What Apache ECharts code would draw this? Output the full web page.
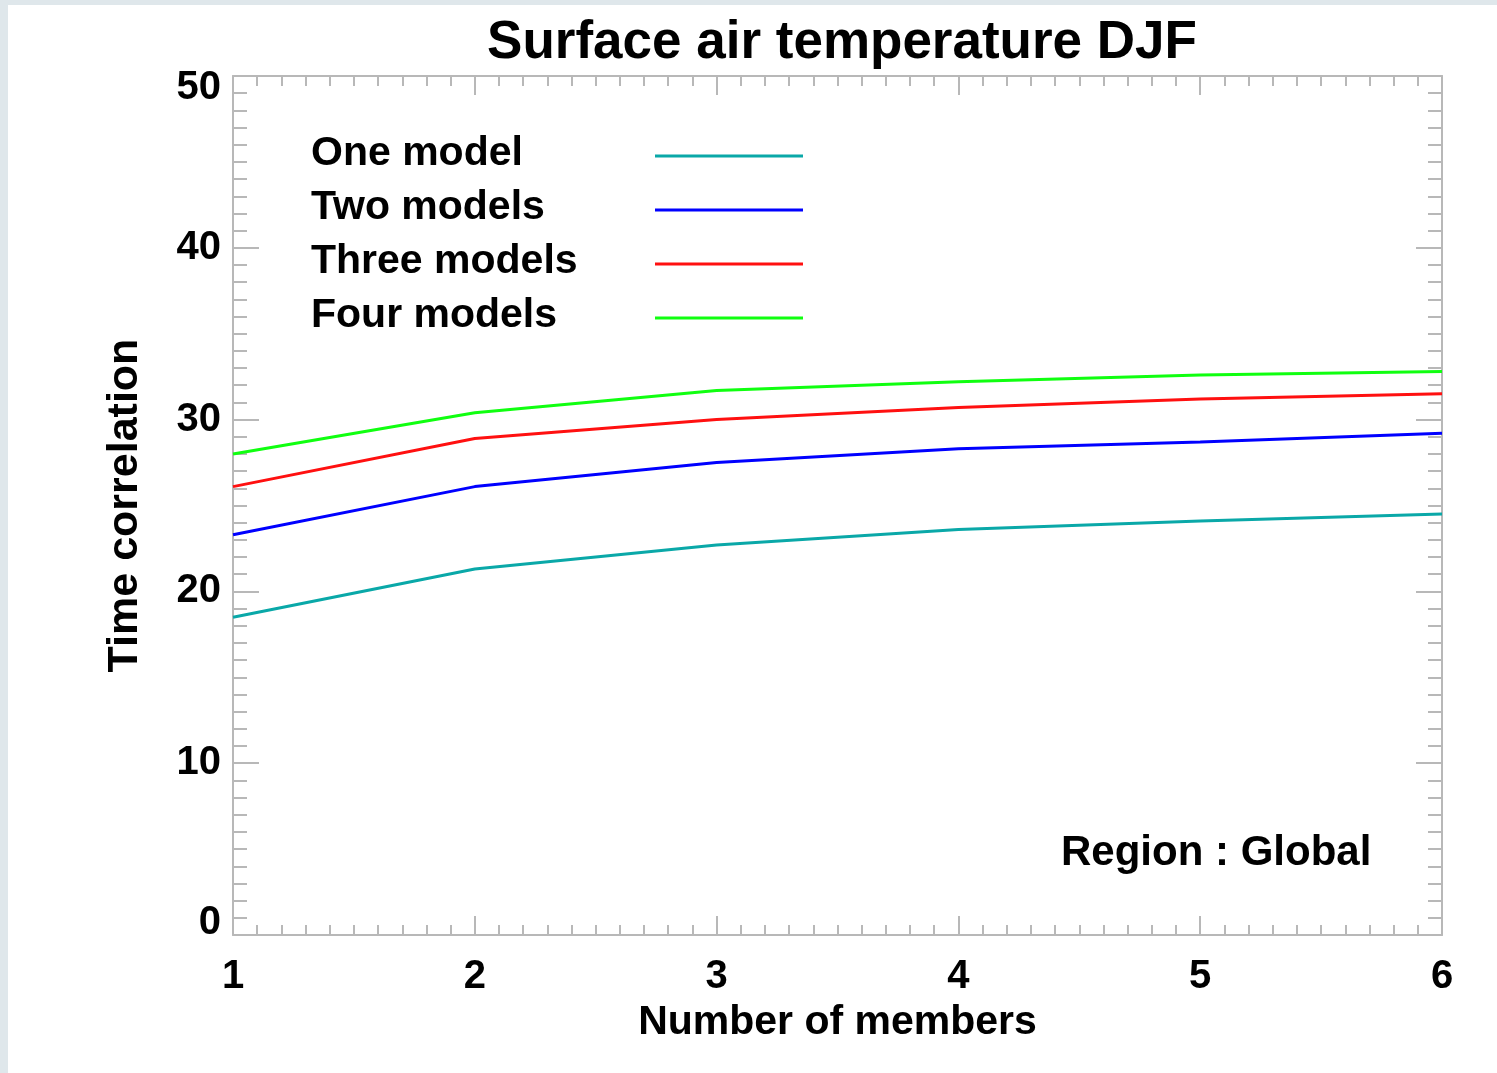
<!DOCTYPE html>
<html>
<head>
<meta charset="utf-8">
<title>Surface air temperature DJF</title>
<script src="https://cdn.jsdelivr.net/npm/echarts@6/dist/echarts.min.js"></script>
<style>
  html, body { margin: 0; padding: 0; background: #dfe7eb; }
  #chart { width: 1497px; height: 1073px; }
</style>
</head>
<body>
<div id="chart"></div>
<script>
// number of members on the x axis
const members = [1, 2, 3, 4, 5, 6]
// time correlation per ensemble size
const oneModel = [18.5, 21.3, 22.7, 23.6, 24.1, 24.5]
const twoModels = [23.3, 26.1, 27.5, 28.3, 28.7, 29.2]
const threeModels = [26.1, 28.9, 30.0, 30.7, 31.2, 31.5]
const fourModels = [28.0, 30.4, 31.7, 32.2, 32.6, 32.8]
const seriesNames = ['One model', 'Two models', 'Three models', 'Four models']
const seriesColors = ['#0aa8a8', '#0000ff', '#ff1010', '#10ff10']

const allValues = [oneModel, twoModels, threeModels, fourModels]
const FONT = '"Liberation Sans", Arial, sans-serif'
const GRAY = '#b8b8b8'

const chart = echarts.init(document.getElementById('chart'))

function axisCommon(show) {
  return {
    axisLine: { show: true, onZero: false, lineStyle: { color: GRAY, width: 2 } },
    splitLine: { show: false },
    axisLabel: { show: show, color: '#000', fontFamily: FONT, fontWeight: 'bold', fontSize: 40, lineHeight: 24 }
  }
}

const xBase = (position, show) => Object.assign(axisCommon(show), {
  type: 'value', position: position, min: 1, max: 6, interval: 1,
  axisTick: { show: true, inside: true, length: 19, lineStyle: { color: GRAY, width: 2 } },
  minorTick: { show: true, splitNumber: 10, length: 10, lineStyle: { color: GRAY, width: 2 } }
})
const yBase = (position, show) => Object.assign(axisCommon(show), {
  type: 'value', position: position, min: 0, max: 50, interval: 10,
  axisTick: { show: true, inside: true, length: 26, lineStyle: { color: GRAY, width: 2 } },
  minorTick: { show: true, splitNumber: 10, length: 14, lineStyle: { color: GRAY, width: 2 } }
})

const xMain = xBase('bottom', true)
xMain.axisLabel.margin = 30
xMain.name = 'Number of members'
xMain.nameLocation = 'middle'
xMain.nameGap = 66
xMain.nameTextStyle = { color: '#000', fontFamily: FONT, fontWeight: 'bold', fontSize: 41 }

const yMain = yBase('left', true)
yMain.axisLabel.margin = 12
yMain.axisLabel.verticalAlignMinLabel = 'bottom'
yMain.axisLabel.verticalAlignMaxLabel = 'top'
yMain.name = 'Time correlation'
yMain.nameLocation = 'middle'
yMain.nameGap = 86
yMain.nameTextStyle = { color: '#000', fontFamily: FONT, fontWeight: 'bold', fontSize: 43 }

// legend drawn as text + line pairs (text left, sample line right)
const legendGraphics = []
seriesNames.forEach((name, i) => {
  legendGraphics.push({
    type: 'text', left: 311, top: 152 + i * 54 - 19,
    style: { text: name, fill: '#000', font: 'bold 41px ' + FONT }
  })
  legendGraphics.push({
    type: 'line', shape: { x1: 655, y1: 156 + i * 54, x2: 803, y2: 156 + i * 54 },
    style: { stroke: seriesColors[i], lineWidth: 3 }
  })
})

chart.setOption({
  backgroundColor: '#dfe7eb',
  animation: false,
  title: {
    text: 'Surface air temperature DJF',
    left: 837, top: 12, textAlign: 'center',
    textStyle: { color: '#000', fontFamily: FONT, fontWeight: 'bold', fontSize: 53 }
  },
  grid: { left: 233, top: 76, width: 1209, height: 859 },
  xAxis: [xMain, xBase('top', false)],
  yAxis: [yMain, yBase('right', false)],
  graphic: [
    { type: 'rect', z: -10, silent: true, shape: { x: 8, y: 5, width: 1489, height: 1068 }, style: { fill: '#fff' } },
    ...legendGraphics,
    {
      type: 'text', left: 1061, top: 832,
      style: { text: 'Region : Global', fill: '#000', font: 'bold 42px ' + FONT }
    }
  ],
  series: allValues.map((vals, i) => ({
    name: seriesNames[i],
    type: 'line',
    showSymbol: false,
    symbol: 'none',
    data: members.map((m, j) => [m, vals[j]]),
    lineStyle: { color: seriesColors[i], width: 3 },
    itemStyle: { color: seriesColors[i] }
  }))
})
</script>
</body>
</html>
